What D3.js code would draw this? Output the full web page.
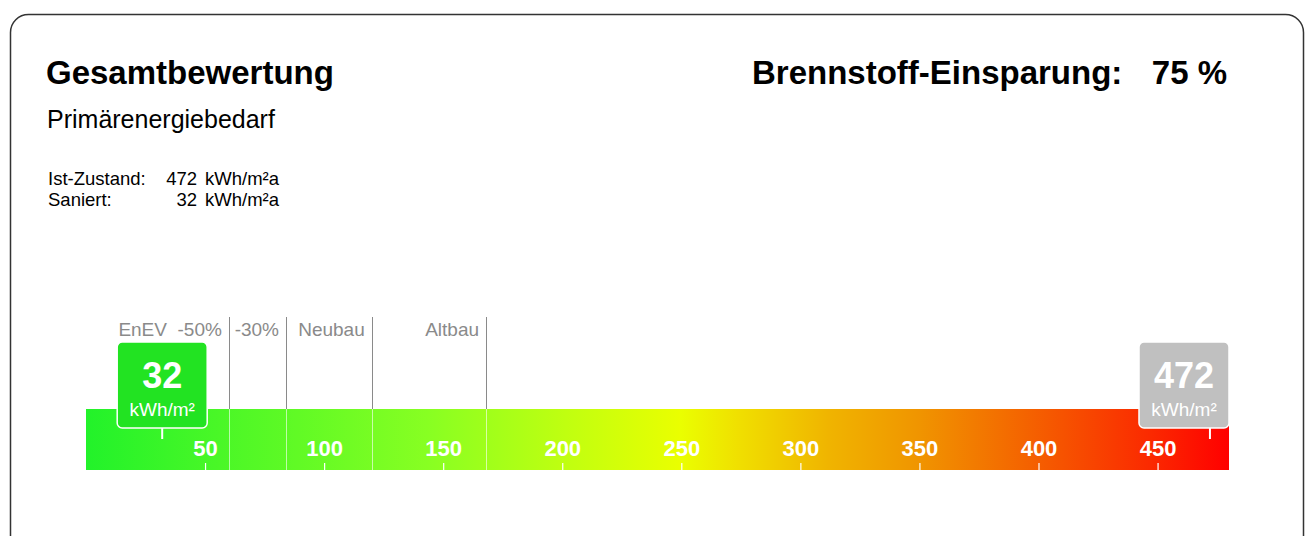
<!DOCTYPE html>
<html>
<head>
<meta charset="utf-8">
<script src="https://cdn.jsdelivr.net/npm/d3@7"></script>
<style>
  body { margin: 0; background: #fff; }
  svg { display: block; font-family: "Liberation Sans", Arial, sans-serif; }
</style>
</head>
<body>
<script>
// scale values
const scaleMax = 480;
const tickValues = [50, 100, 150, 200, 250, 300, 350, 400, 450];

// reference limits above the bar
const limitValues = [60, 84, 120, 168];
const limitLabels = ['EnEV  -50%', '-30%', 'Neubau', 'Altbau'];

// markers (saniert / ist-zustand)
const markerValues = [32, 472];
const markerColors = ['#22e322', '#c0c0c0'];
const markerUnit = 'kWh/m²';

// summary texts
const summaryLabels = ['Ist-Zustand:', 'Saniert:'];
const summaryValues = [472, 32];
const savingPercent = 75;

// gradient stops
const gradOffsets = [0, 0.3, 0.42, 0.52, 0.57, 0.65, 0.73, 0.84, 0.93, 1];
const gradColors = ['#22f22a', '#88ff22', '#c0ff10', '#eaff00', '#f0e000', '#f0b400', '#f09400', '#f55a00', '#fb2a00', '#ff0000'];

const width = 1308, height = 536;
const barTop = 409, barBottom = 470;

const svg = d3.select('body').append('svg')
  .attr('width', width)
  .attr('height', height);

// outer frame
svg.append('rect')
  .attr('x', 10.5).attr('y', 14.5)
  .attr('width', 1293).attr('height', 560)
  .attr('rx', 18)
  .attr('fill', 'none')
  .attr('stroke', '#333')
  .attr('stroke-width', 1.5);

// header
svg.append('text')
  .attr('x', 46).attr('y', 84)
  .attr('font-size', 33).attr('font-weight', 'bold')
  .text('Gesamtbewertung');

svg.append('text')
  .attr('x', 752).attr('y', 84)
  .attr('font-size', 33).attr('font-weight', 'bold')
  .text('Brennstoff-Einsparung:');

svg.append('text')
  .attr('x', 1227).attr('y', 84)
  .attr('text-anchor', 'end')
  .attr('font-size', 33).attr('font-weight', 'bold')
  .text(`${savingPercent} %`);

svg.append('text')
  .attr('x', 47).attr('y', 128)
  .attr('font-size', 25)
  .text('Primärenergiebedarf');

const summary = svg.append('g').attr('font-size', 18.5);
summaryLabels.forEach(function(lab, i) {
  const y = 185 + i * 21;
  summary.append('text').attr('x', 48).attr('y', y).text(lab);
  summary.append('text').attr('x', 197).attr('y', y).attr('text-anchor', 'end').text(summaryValues[i]);
  summary.append('text').attr('x', 205).attr('y', y).text('kWh/m²a');
});

// scale
const x = d3.scaleLinear().domain([0, scaleMax]).range([86, 1229]);

const defs = svg.append('defs');
const grad = defs.append('linearGradient')
  .attr('id', 'barGrad')
  .attr('x1', '0%').attr('x2', '100%')
  .attr('y1', '0%').attr('y2', '0%');
grad.selectAll('stop')
  .data(gradOffsets)
  .enter()
  .append('stop')
  .attr('offset', function(d) { return d; })
  .attr('stop-color', function(d, i) { return gradColors[i]; });

svg.append('rect')
  .attr('x', x(0)).attr('y', barTop)
  .attr('width', x(scaleMax) - x(0))
  .attr('height', barBottom - barTop)
  .attr('fill', 'url(#barGrad)');

// limit lines
const limits = svg.append('g');
limits.selectAll('line.top')
  .data(limitValues)
  .enter()
  .append('line')
  .attr('class', 'top')
  .attr('x1', function(d) { return Math.round(x(d)) + 0.5; })
  .attr('x2', function(d) { return Math.round(x(d)) + 0.5; })
  .attr('y1', 317).attr('y2', barTop)
  .attr('stroke', '#8a8a8a')
  .attr('stroke-width', 1);
limits.selectAll('line.inner')
  .data(limitValues)
  .enter()
  .append('line')
  .attr('class', 'inner')
  .attr('x1', function(d) { return Math.round(x(d)) + 0.5; })
  .attr('x2', function(d) { return Math.round(x(d)) + 0.5; })
  .attr('y1', barTop).attr('y2', barBottom)
  .attr('stroke', 'rgba(255,255,255,0.6)')
  .attr('stroke-width', 1);
limits.selectAll('text')
  .data(limitValues)
  .enter()
  .append('text')
  .attr('x', function(d) { return x(d) - 7; })
  .attr('y', 336)
  .attr('text-anchor', 'end')
  .attr('font-size', 19)
  .attr('fill', '#8a8a8a')
  .style('white-space', 'pre')
  .text(function(d, i) { return limitLabels[i]; });

// axis ticks inside the bar
const axis = d3.axisBottom(x).tickValues(tickValues).tickSize(0).tickPadding(0);
const axisG = svg.append('g')
  .attr('transform', `translate(0,${barBottom})`)
  .call(axis);
axisG.select('.domain').remove();
axisG.selectAll('.tick line')
  .attr('y1', -7).attr('y2', 0)
  .attr('stroke', '#fff')
  .attr('stroke-width', 1.2);
axisG.selectAll('.tick text')
  .attr('y', -14)
  .attr('dy', null)
  .attr('fill', '#fff')
  .attr('font-size', 22)
  .attr('font-weight', 'bold')
  .attr('font-family', '"Liberation Sans", Arial, sans-serif');

// value markers
const boxW = 90, boxH = 86, boxTop = 342;
const markers = svg.selectAll('g.marker')
  .data(markerValues)
  .enter()
  .append('g')
  .attr('class', 'marker');

function boxX(d) {
  return Math.max(x(0), Math.min(x(scaleMax) - boxW, x(d) - boxW / 2));
}

markers.append('line')
  .attr('x1', function(d) { return x(d); })
  .attr('x2', function(d) { return x(d); })
  .attr('y1', boxTop + boxH - 2).attr('y2', boxTop + boxH + 11)
  .attr('stroke', '#fff')
  .attr('stroke-width', 2);

markers.append('rect')
  .attr('x', boxX)
  .attr('y', boxTop)
  .attr('width', boxW).attr('height', boxH)
  .attr('rx', 5)
  .attr('fill', function(d, i) { return markerColors[i]; })
  .attr('stroke', '#fff')
  .attr('stroke-width', 1.5);

markers.append('text')
  .attr('x', function(d) { return boxX(d) + boxW / 2; })
  .attr('y', 388)
  .attr('text-anchor', 'middle')
  .attr('font-size', 36)
  .attr('font-weight', 'bold')
  .attr('fill', '#fff')
  .text(function(d) { return d; });

markers.append('text')
  .attr('x', function(d) { return boxX(d) + boxW / 2; })
  .attr('y', 416)
  .attr('text-anchor', 'middle')
  .attr('font-size', 19)
  .attr('fill', '#fff')
  .text(markerUnit);
</script>
</body>
</html>
